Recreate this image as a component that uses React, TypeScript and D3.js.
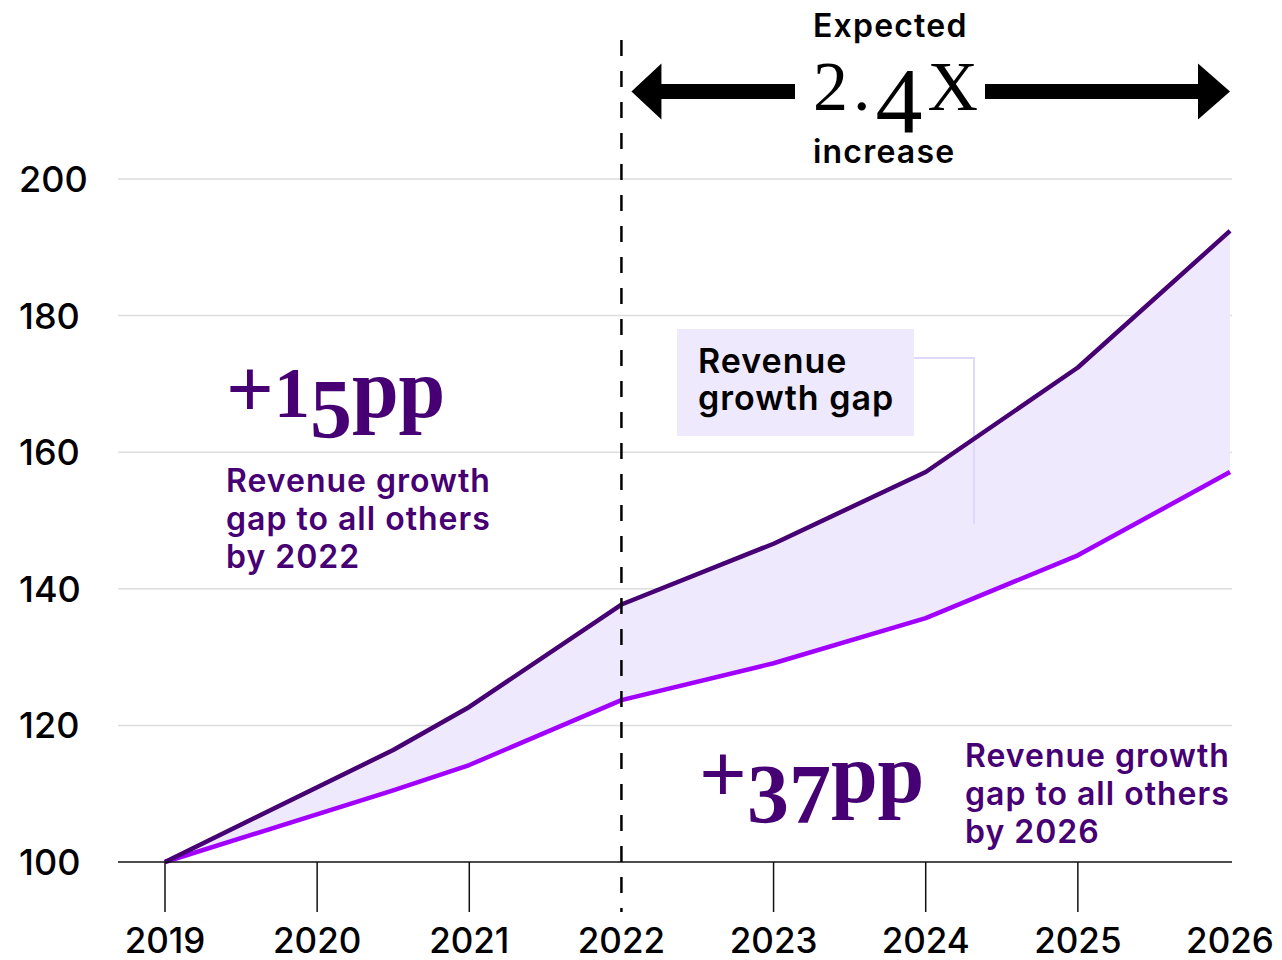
import React from 'react';
import * as d3 from 'd3';

// ---- data ----
const years = [2019, 2020.5, 2021, 2022, 2023, 2024, 2025, 2026];
const leaderIndex = [100, 116.4, 122.7, 137.7, 146.6, 157.1, 172.4, 192.4];
const othersIndex = [100, 110.5, 114.2, 123.7, 129.1, 135.7, 144.9, 157.1];
const yTicks = [100, 120, 140, 160, 180, 200];
const xTickLabels = [2019, 2020, 2021, 2022, 2023, 2024, 2025, 2026];
const xTickMarks = [2019, 2020, 2021, 2023, 2024, 2025];
const leftNote = ['Revenue growth', 'gap to all others', 'by 2022'];
const rightNote = ['Revenue growth', 'gap to all others', 'by 2026'];
const legendLines = ['Revenue', 'growth gap'];

const DARK = '#460073';
const BRIGHT = '#A100FF';
const FILL = '#EEE9FD';
const SANS = 'Inter, "Noto Sans", sans-serif';
const SERIF = '"Liberation Serif", "DejaVu Serif", serif';

export default function App() {
  const W = 1282, H = 960;
  const x = d3.scaleLinear().domain([2019, 2026]).range([165, 1230]);
  const y = d3.scaleLinear().domain([100, 200]).range([862, 179]);
  const data = years.map((yr, i) => ({ yr, hi: leaderIndex[i], lo: othersIndex[i] }));

  const area = d3.area<any>().x(d => x(d.yr)).y0(d => y(d.lo)).y1(d => y(d.hi))(data) || '';
  const lineHi = d3.line<any>().x(d => x(d.yr)).y(d => y(d.hi))(data) || '';
  const lineLo = d3.line<any>().x(d => x(d.yr)).y(d => y(d.lo))(data) || '';

  const x22 = x(2022);
  const x26 = x(2026);
  const ay = 91.5;
  const leftArrow = `M${x22 + 10},${ay} L${x22 + 40},${ay - 28} L${x22 + 40},${ay - 7.5} L795,${ay - 7.5} L795,${ay + 7.5} L${x22 + 40},${ay + 7.5} L${x22 + 40},${ay + 28} Z`;
  const rightArrow = `M${x26},${ay} L${x26 - 32},${ay - 28} L${x26 - 32},${ay - 7.5} L985,${ay - 7.5} L985,${ay + 7.5} L${x26 - 32},${ay + 7.5} L${x26 - 32},${ay + 28} Z`;

  return (
    <svg width={W} height={H} style={{ position: 'absolute', left: 0, top: 0, background: '#fff' }}>
      {/* gridlines */}
      {yTicks.filter(t => t !== 100).map(t => (
        <line key={t} x1={118} x2={1232} y1={y(t)} y2={y(t)} stroke="#dddddd" strokeWidth={1.5} />
      ))}
      {/* area */}
      <path d={area} fill={FILL} />
      {/* legend connector */}
      <path d="M914,358 H974 V524" fill="none" stroke="#E0D8FA" strokeWidth={2} />
      {/* lines */}
      <path d={lineLo} fill="none" stroke={BRIGHT} strokeWidth={4.5} strokeLinejoin="round" />
      <path d={lineHi} fill="none" stroke={DARK} strokeWidth={4.5} strokeLinejoin="round" />
      {/* baseline */}
      <line x1={118} x2={1232} y1={y(100)} y2={y(100)} stroke="#111" strokeWidth={1.5} />
      {xTickMarks.map(t => (
        <line key={t} x1={x(t)} x2={x(t)} y1={y(100)} y2={y(100) + 50} stroke="#111" strokeWidth={1.5} />
      ))}
      {/* dashed 2022 line */}
      <line x1={x22} x2={x22} y1={40} y2={912} stroke="#000" strokeWidth={2.5} strokeDasharray="16 15" />
      {/* y labels */}
      {yTicks.map(t => (
        <text key={t} x={19} y={y(t) + 13} fontFamily={SANS} fontWeight={500} fontSize={36} fill="#000">{t}</text>
      ))}
      {/* x labels */}
      {xTickLabels.map(t => (
        <text key={t} x={x(t)} y={953} textAnchor="middle" fontFamily={SANS} fontWeight={500} fontSize={35} fill="#000">{t}</text>
      ))}
      {/* arrows and 2.4X */}
      <path d={leftArrow} fill="#000" />
      <path d={rightArrow} fill="#000" />
      <text x={813} y={37} fontFamily={SANS} fontWeight={600} fontSize={32} letterSpacing={1.2} fill="#000">Expected</text>
      <text x={813} y={110} fontFamily={SERIF} fontSize={70} letterSpacing={5} fill="#000">
        <tspan>2.</tspan>
        <tspan fontSize={94} dy={22}>4</tspan>
        <tspan dy={-22}>X</tspan>
      </text>
      <text x={813} y={163} fontFamily={SANS} fontWeight={600} fontSize={32} letterSpacing={1.2} fill="#000">increase</text>
      {/* legend box */}
      <rect x={677} y={329} width={237} height={107} fill={FILL} />
      {legendLines.map((l, i) => (
        <text key={l} x={698} y={373 + i * 37} fontFamily={SANS} fontWeight={600} fontSize={34} letterSpacing={1} fill="#000">{l}</text>
      ))}
      {/* +15pp */}
      <text x={226} y={417} fontFamily={SERIF} fontWeight={700} fontSize={84} fill={DARK}>
        <tspan>+</tspan>
        <tspan fontSize={72}>1</tspan>
        <tspan dy={21}>5</tspan>
        <tspan dy={-21}>pp</tspan>
      </text>
      {leftNote.map((l, i) => (
        <text key={l} x={226} y={492 + i * 38} fontFamily={SANS} fontWeight={600} fontSize={32} letterSpacing={1} fill={DARK}>{l}</text>
      ))}
      {/* +37pp */}
      <text x={699} y={802} fontFamily={SERIF} fontWeight={700} fontSize={84} fill={DARK}>
        <tspan>+</tspan>
        <tspan dy={21}>37</tspan>
        <tspan dy={-21}>pp</tspan>
      </text>
      {rightNote.map((l, i) => (
        <text key={l} x={965} y={767 + i * 38} fontFamily={SANS} fontWeight={600} fontSize={32} letterSpacing={1} fill={DARK}>{l}</text>
      ))}
    </svg>
  );
}
